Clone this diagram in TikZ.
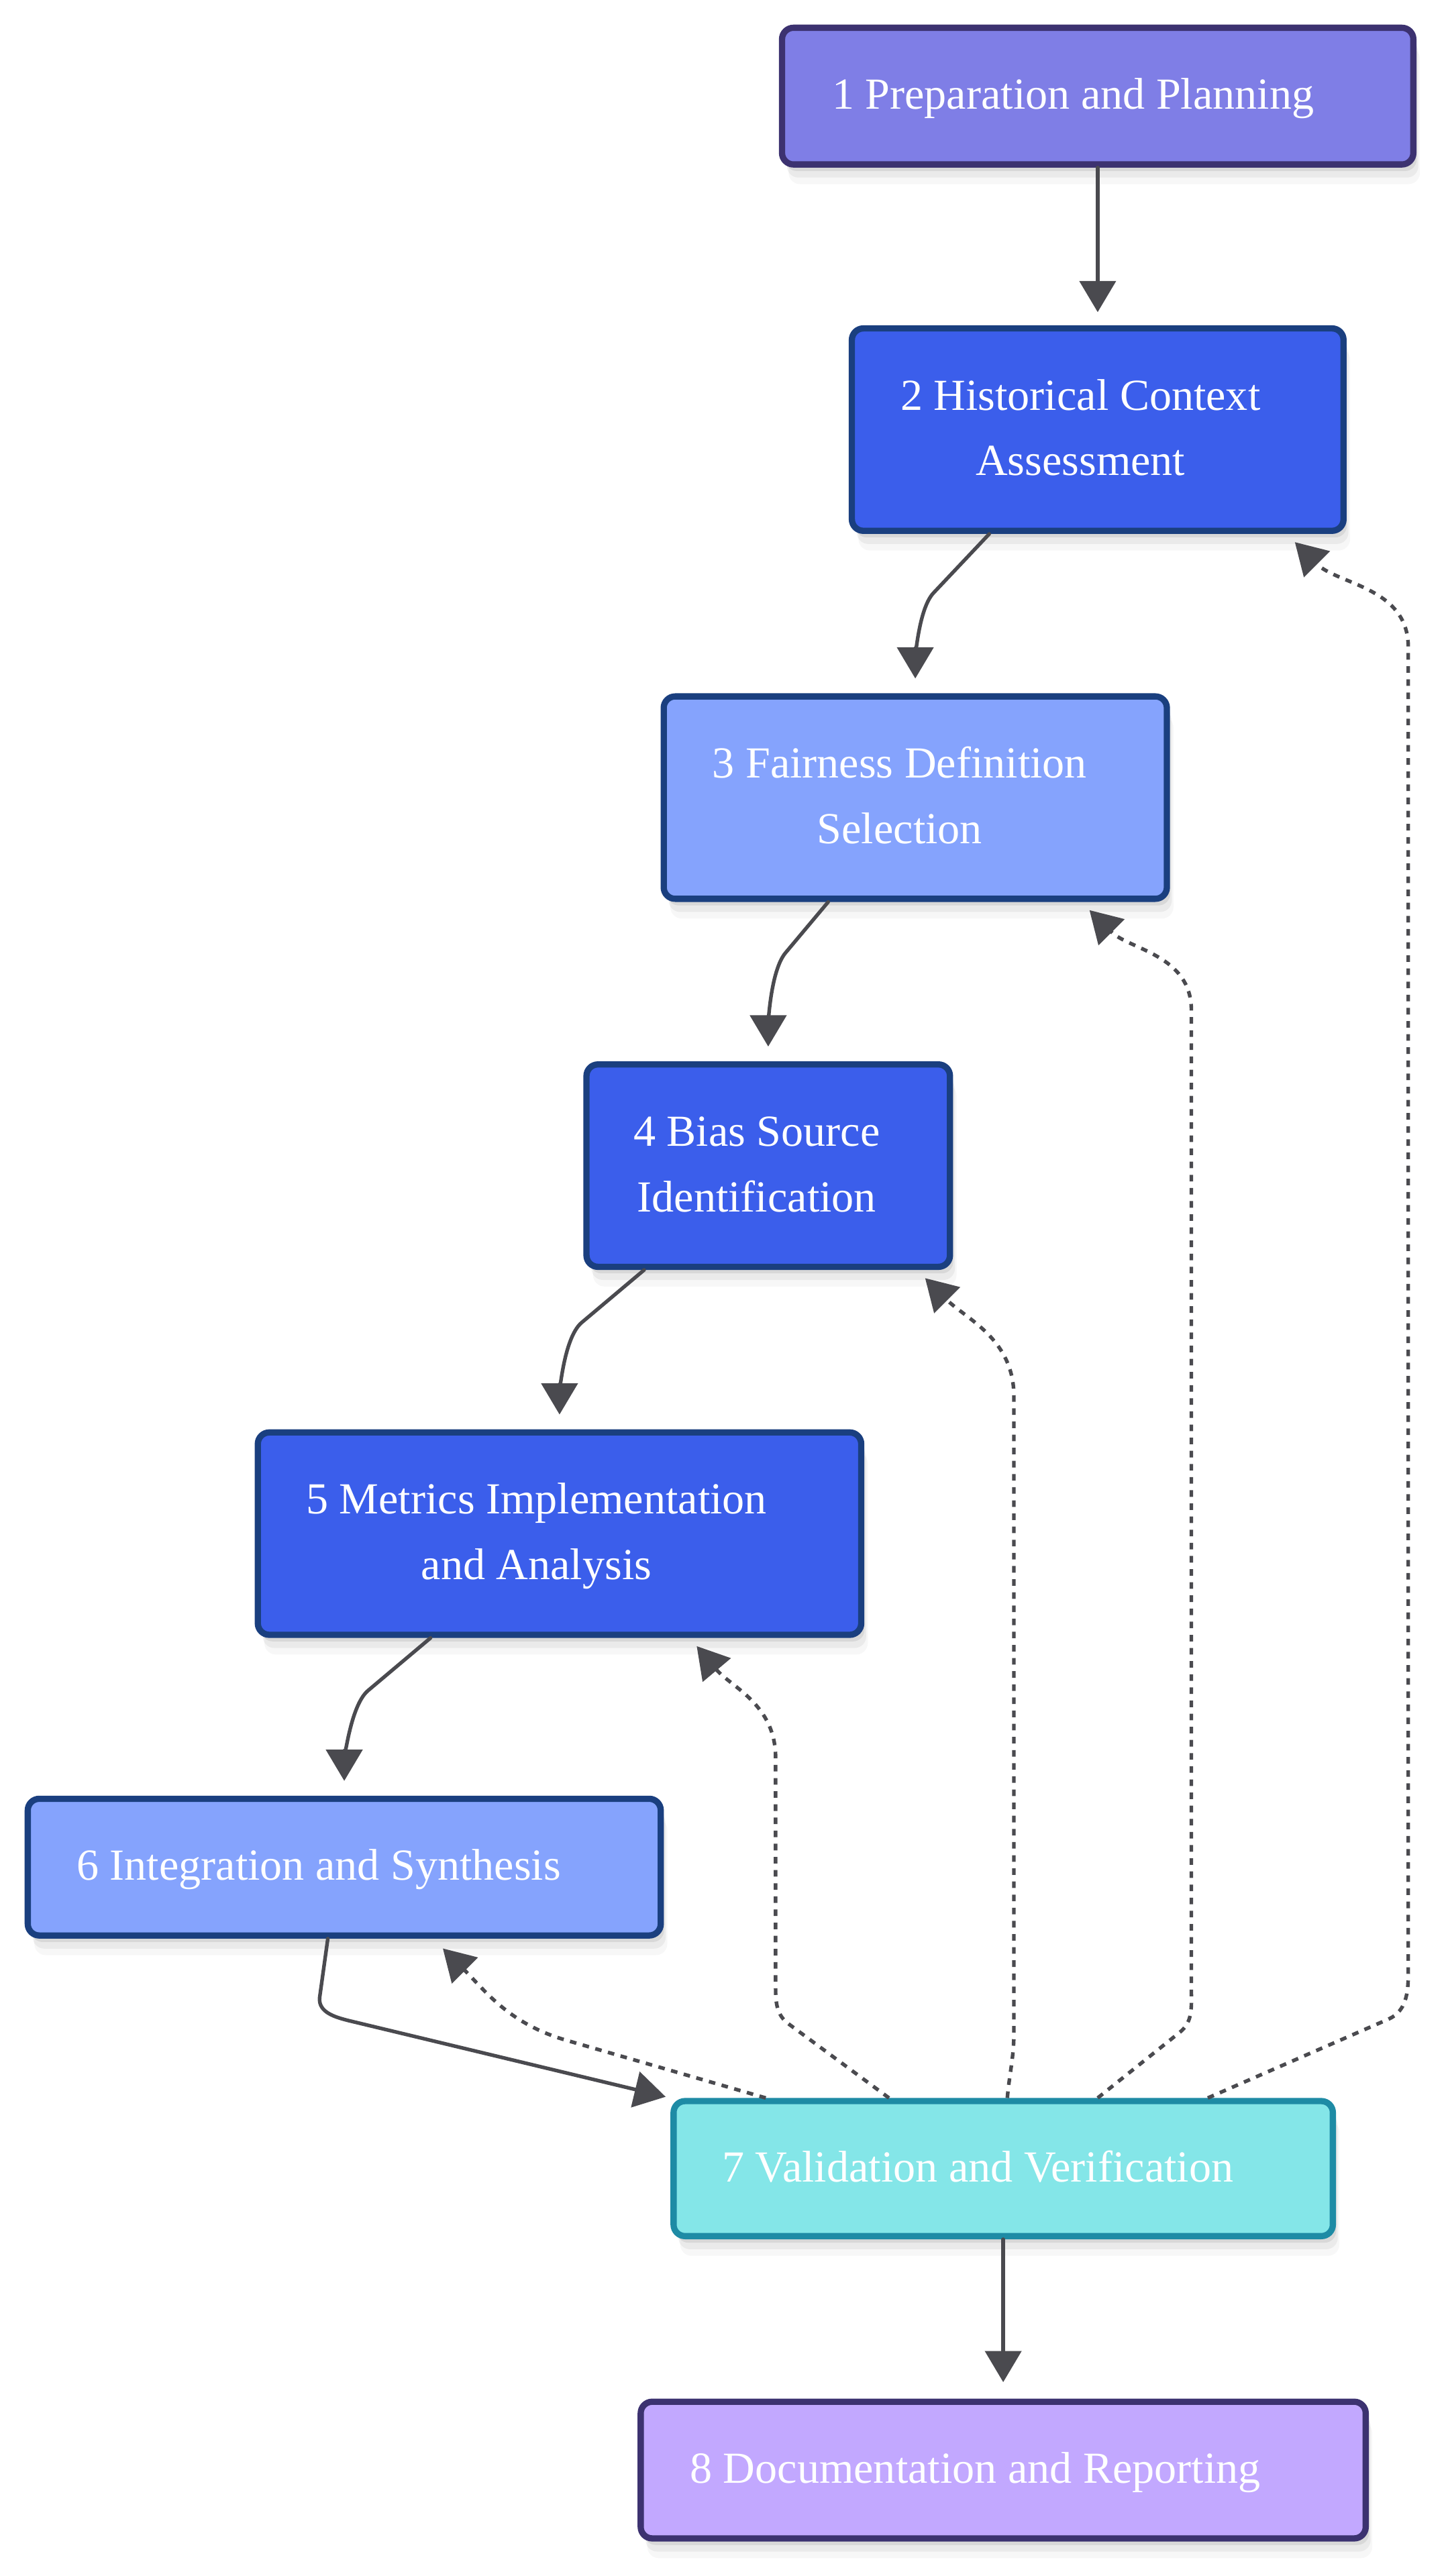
\documentclass[tikz,border=0pt]{standalone}
\usepackage{fontspec}
\setmainfont{Liberation Serif}
\usetikzlibrary{arrows.meta,calc,shadows}
\definecolor{prepfill}{HTML}{7F7EE6}
\definecolor{prepline}{HTML}{3C3270}
\definecolor{bluefill}{HTML}{3B5EEB}
\definecolor{blueline}{HTML}{1A3F7F}
\definecolor{lightfill}{HTML}{85A3FD}
\definecolor{cyanfill}{HTML}{84E6E8}
\definecolor{cyanline}{HTML}{1E8BA5}
\definecolor{lilacfill}{HTML}{C2A8FF}
\definecolor{edge}{HTML}{4A4A4F}
\newcommand{\stagetext}[2][28]{\hspace*{-#1pt}\begin{tabular}{@{}c@{}}#2\end{tabular}}

\begin{document}
\begin{tikzpicture}[x=1pt,y=1pt,line join=round,
  stage/.style={draw,line width=3.8pt,rounded corners=7pt,inner sep=0pt,text=white,
    font=\fontsize{27}{40}\selectfont,
    drop shadow={shadow xshift=2pt,shadow yshift=-4pt,opacity=0.07,fill=black},
    drop shadow={shadow xshift=3pt,shadow yshift=-8pt,opacity=0.05,fill=black},
    drop shadow={shadow xshift=4pt,shadow yshift=-12pt,opacity=0.03,fill=black}},
  flow/.style={color=edge,line width=2.2pt,line cap=round,-{Triangle[length=19pt,width=22pt]}},
  back/.style={flow,line cap=butt,dash pattern=on 4pt off 4pt}]
\useasboundingbox (0,0) rectangle (881,-1568);
\fill[white] (0,0) rectangle (881,-1568);
\node[stage,fill=prepfill,draw=prepline,minimum width=384.2pt,minimum height=83.2pt] (n1) at (668,-58.5) {\stagetext[30]{1 Preparation and Planning}};
\node[stage,fill=bluefill,draw=blueline,minimum width=299.2pt,minimum height=123.2pt] (n2) at (668,-261.5) {\stagetext[21]{2 Historical Context\\Assessment}};
\node[stage,fill=lightfill,draw=blueline,minimum width=306.2pt,minimum height=123.2pt] (n3) at (557,-485.5) {\stagetext[19]{3 Fairness Definition\\Selection}};
\node[stage,fill=bluefill,draw=blueline,minimum width=221.2pt,minimum height=123.2pt] (n4) at (467.5,-709.5) {\stagetext[14]{4 Bias Source\\Identification}};
\node[stage,fill=bluefill,draw=blueline,minimum width=367.2pt,minimum height=123.2pt] (n5) at (340.5,-933.5) {\stagetext[28]{5 Metrics Implementation\\and Analysis}};
\node[stage,fill=lightfill,draw=blueline,minimum width=385.2pt,minimum height=83.2pt] (n6) at (209.5,-1136.5) {\stagetext[31]{6 Integration and Synthesis}};
\node[stage,fill=cyanfill,draw=cyanline,minimum width=401.2pt,minimum height=82.2pt] (n7) at (610.5,-1320) {\stagetext[31]{7 Validation and Verification}};
\node[stage,fill=lilacfill,draw=prepline,minimum width=441.2pt,minimum height=83.2pt] (n8) at (610.5,-1503.5) {\stagetext[34]{8 Documentation and Reporting}};
\draw[flow,shorten >=8pt] (n1) -- (n2);
\draw[flow,shorten >=9pt] ($(n2.south)+(-66,0)$) -- ++(-34,-36) to[out=227,in=90,looseness=.6] (n3);
\draw[flow,shorten >=9pt] ($(n3.south)+(-53,0)$) -- ++(-26,-31) to[out=230,in=90,looseness=.6] (n4);
\draw[flow,shorten >=9pt] ($(n4.south)+(-75.5,0)$) -- ++(-38,-32) to[out=220,in=90,looseness=.6] (n5);
\draw[flow,shorten >=9pt] ($(n5.south)+(-78.5,0)$) -- ++(-38,-32) to[out=220,in=90,looseness=.6] (n6);
\draw[flow,shorten >=3pt] ($(n6.south)+(-10,0)$) -- ++(-5,-36) to[out=265,in=166] ++(18,-14) -- (n7.north west);
\draw[flow,shorten >=10pt] (n7) -- (n8);
\draw[back] ($(n7.north)+(124.5,0)$) -- ++(110,48) to[out=24,in=270] ++(12,28) -- ++(0,807) to[out=90,in=-45] ($(n2.south)+(120,-5)$);
\draw[back] ($(n7.north)+(57.5,0)$) -- ++(50,40) to[out=39,in=270] ++(7,25) -- ++(0,597) to[out=90,in=-45] ($(n3.south)+(106,-5)$);
\draw[back] ($(n7.north)+(2.5,0)$) to[out=85,in=270] ++(4,40) -- ++(0,387) to[out=90,in=-45] ($(n4.south)+(95.5,-5)$);
\draw[back] ($(n7.north)+(-69.5,0)$) -- ++(-61,45) to[out=144,in=270] ++(-8,22) -- ++(0,140) to[out=90,in=-50] ($(n5.south)+(83.5,-5)$);
\draw[back] ($(n7.north)+(-144.5,0)$) -- ++(-121,35) to[out=164,in=-45] ($(n6.south)+(60,-6)$);
\end{tikzpicture}
\end{document}
